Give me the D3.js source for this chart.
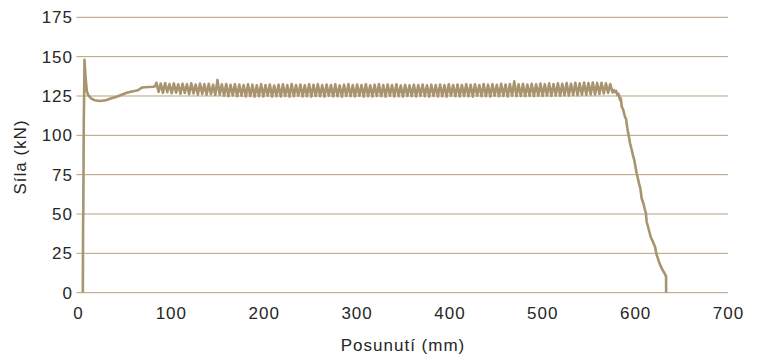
<!DOCTYPE html>
<html>
<head>
<meta charset="utf-8">
<script src="https://cdn.jsdelivr.net/npm/d3@7"></script>
<style>
  html, body { margin: 0; padding: 0; background: #ffffff; }
  svg { display: block; }
  text { font-family: "Liberation Sans", Arial, sans-serif; fill: #262626; }
</style>
</head>
<body>
<svg id="chart" width="759" height="356"></svg>
<script>
// Axis ticks
const xTicks = [0, 100, 200, 300, 400, 500, 600, 700];
const yTicks = [0, 25, 50, 75, 100, 125, 150, 175];

// Loading ramp, initial peak and settling (mm, kN)
const rampX = [5.2, 5.5, 5.7, 6.2, 6.6, 7.0, 8.0, 9.5, 11.1, 14, 18, 23.7, 30, 36, 41.8, 47, 52.5, 58, 62, 65, 67, 68.5, 72, 76, 81, 83];
const rampY = [0, 45, 50.5, 108, 125, 148, 138, 128, 125.5, 123.5, 122.3, 121.8, 122.3, 123.5, 124.5, 125.8, 127, 127.8, 128.3, 128.8, 129.6, 130.3, 130.5, 130.7, 130.9, 131.2];

// Steady oscillating plateau (mm)
const plateauX = [
  84.4, 86.8, 89.1, 91.5, 93.8, 96.2, 98.5, 100.9, 103.2, 105.6,
  107.9, 110.3, 112.6, 115.0, 117.3, 119.7, 122.0, 124.4, 126.7, 129.1,
  131.4, 133.8, 136.1, 138.5, 140.8, 143.2, 145.5, 147.9, 150.2, 152.6,
  154.9, 157.3, 159.6, 162.0, 164.3, 166.7, 169.0, 171.4, 173.7, 176.1,
  178.4, 180.8, 183.1, 185.5, 187.8, 190.2, 192.5, 194.9, 197.2, 199.6,
  201.9, 204.3, 206.6, 209.0, 211.3, 213.7, 216.0, 218.4, 220.7, 223.1,
  225.4, 227.8, 230.1, 232.5, 234.8, 237.2, 239.5, 241.9, 244.2, 246.6,
  248.9, 251.3, 253.6, 256.0, 258.3, 260.7, 263.0, 265.4, 267.7, 270.1,
  272.4, 274.8, 277.1, 279.5, 281.8, 284.2, 286.5, 288.9, 291.2, 293.6,
  295.9, 298.3, 300.6, 303.0, 305.3, 307.7, 310.0, 312.4, 314.7, 317.1,
  319.4, 321.8, 324.1, 326.5, 328.8, 331.2, 333.5, 335.9, 338.2, 340.6,
  342.9, 345.3, 347.6, 350.0, 352.3, 354.7, 357.0, 359.4, 361.7, 364.1,
  366.4, 368.8, 371.1, 373.5, 375.8, 378.2, 380.5, 382.9, 385.2, 387.6,
  389.9, 392.3, 394.6, 397.0, 399.3, 401.7, 404.0, 406.4, 408.7, 411.1,
  413.4, 415.8, 418.1, 420.5, 422.8, 425.2, 427.5, 429.9, 432.2, 434.6,
  436.9, 439.3, 441.6, 444.0, 446.3, 448.7, 451.0, 453.4, 455.7, 458.1,
  460.4, 462.8, 465.1, 467.5, 469.8, 472.2, 474.5, 476.9, 479.2, 481.6,
  483.9, 486.3, 488.6, 491.0, 493.3, 495.7, 498.0, 500.4, 502.7, 505.1,
  507.4, 509.8, 512.1, 514.5, 516.8, 519.2, 521.5, 523.9, 526.2, 528.6,
  530.9, 533.3, 535.6, 538.0, 540.3, 542.7, 545.0, 547.4, 549.7, 552.1,
  554.4, 556.8, 559.1, 561.5, 563.8, 566.2, 568.5, 570.9, 573.2, 575.6
];
// Plateau force (kN)
const plateauY = [
  133.4, 127.6, 132.9, 127.0, 133.2, 127.4, 132.6, 126.7, 133.0, 127.1,
  132.4, 126.5, 132.8, 126.9, 132.5, 126.2, 133.1, 126.6, 132.3, 125.9,
  132.9, 126.3, 132.5, 125.8, 132.7, 126.1, 132.2, 125.6, 135.2, 125.8,
  132.4, 125.2, 132.6, 124.9, 132.1, 125.3, 132.5, 124.8, 132.3, 125.1,
  131.9, 124.7, 132.4, 125.0, 132.2, 124.6, 131.8, 124.9, 132.5, 124.7,
  132.0, 125.1, 132.3, 124.6, 131.7, 124.9, 132.2, 124.7, 132.4, 125.0,
  131.9, 124.6, 132.6, 124.8, 132.0, 125.2, 132.3, 124.7, 131.8, 124.9,
  132.4, 124.6, 132.1, 125.0, 132.5, 124.8, 131.9, 124.6, 132.3, 125.1,
  132.0, 124.7, 132.4, 124.9, 131.8, 124.6, 132.2, 125.0, 132.5, 124.8,
  131.9, 124.7, 132.3, 125.1, 132.0, 124.6, 132.4, 124.9, 131.8, 124.7,
  132.2, 125.0, 132.5, 124.8, 131.9, 124.6, 132.3, 125.1, 132.0, 124.7,
  132.4, 124.9, 131.7, 124.6, 132.1, 125.0, 131.8, 124.8, 132.2, 124.7,
  131.9, 125.1, 132.3, 124.8, 131.8, 124.6, 132.2, 125.0, 131.9, 124.7,
  132.3, 124.9, 132.0, 124.6, 132.4, 125.1, 131.9, 124.8, 132.3, 124.7,
  132.0, 125.0, 132.5, 124.8, 132.1, 124.6, 132.4, 125.1, 132.0, 124.8,
  132.6, 124.9, 132.2, 124.7, 132.5, 125.2, 132.1, 124.8, 132.7, 125.0,
  132.3, 124.7, 132.6, 125.1, 134.3, 124.9, 132.4, 125.0, 132.7, 124.8,
  132.3, 125.1, 132.8, 124.9, 132.4, 125.2, 132.9, 125.0, 132.5, 125.3,
  133.0, 125.1, 132.6, 125.4, 133.1, 125.2, 132.7, 125.5, 133.2, 125.3,
  132.8, 125.6, 133.4, 125.5, 133.0, 125.8, 133.5, 125.7, 133.2, 126.0,
  133.6, 125.9, 133.3, 126.3, 133.4, 126.6, 133.0, 126.9, 132.6, 127.2
];

// Failure and unloading (mm, kN)
const dropX = [577.0, 578.3, 579.5, 581.0, 582.2, 583.7, 584.6, 585.5, 587.0, 589.0, 590.2, 591.6, 593.0, 594.5, 596.0, 598.0, 599.0, 601.6, 603.0, 604.5, 605.5, 607.0, 609.0, 610.6, 611.5, 612.4, 614.5, 616.7, 619.0, 621.4, 623.0, 625.0, 627.0, 629.5, 631.5, 632.8, 633.3, 633.4];
const dropY = [128.8, 127.5, 128.2, 125.5, 126.4, 122.5, 123.5, 118.2, 116.5, 111.8, 110.5, 104.5, 100.0, 95.0, 91.5, 86.4, 84.5, 75.9, 72.5, 68.4, 66.8, 60.0, 56.5, 52.5, 51.0, 45.1, 40.5, 35.6, 32.5, 29.2, 24.5, 20.8, 17.5, 14.5, 12.5, 11.0, 10.5, 0];

const displacement = rampX.concat(plateauX, dropX);
const force = rampY.concat(plateauY, dropY);
const points = displacement.map((d, i) => [d, force[i]]);

const svg = d3.select("#chart");
const x = d3.scaleLinear().domain([0, 700]).range([78, 728]);
const y = d3.scaleLinear().domain([0, 175]).range([292.7, 17.3]);

const gridColor = "#b3a07a";
const lineColor = "#a8956f";
const fontFamily = "'Liberation Sans', Arial, sans-serif";

// Horizontal gridlines
svg.append("g")
  .selectAll("line")
  .data(yTicks)
  .join("line")
  .attr("x1", x(0) - 1.5)
  .attr("x2", x(700))
  .attr("y1", d => y(d))
  .attr("y2", d => y(d))
  .attr("stroke", gridColor)
  .attr("stroke-width", 1);

// Y axis labels
const yAxis = d3.axisLeft(y).tickValues(yTicks).tickSize(0).tickPadding(0);
svg.append("g")
  .attr("transform", `translate(${x(0) - 5},0)`)
  .call(yAxis)
  .call(g => g.select(".domain").remove())
  .call(g => g.selectAll("text")
    .attr("fill", "#262626")
    .style("font-size", "17px")
    .style("letter-spacing", "1px")
    .style("font-family", fontFamily));

// X axis labels
const xAxis = d3.axisBottom(x).tickValues(xTicks).tickSize(0).tickPadding(0);
svg.append("g")
  .attr("transform", `translate(0,${y(0) + 14})`)
  .call(xAxis)
  .call(g => g.select(".domain").remove())
  .call(g => g.selectAll("text")
    .attr("fill", "#262626")
    .style("font-size", "17px")
    .style("letter-spacing", "1px")
    .style("font-family", fontFamily));

// Axis titles
svg.append("text")
  .attr("x", (x(0) + x(700)) / 2)
  .attr("y", 351)
  .attr("text-anchor", "middle")
  .style("font-size", "17px")
  .style("letter-spacing", "1px")
  .text("Posunutí (mm)");

svg.append("text")
  .attr("transform", `translate(26,${(y(0) + y(175)) / 2 + 2}) rotate(-90)`)
  .attr("text-anchor", "middle")
  .style("font-size", "17px")
  .style("letter-spacing", "1px")
  .text("Síla (kN)");

// Force–displacement curve
const line = d3.line().x(d => x(d[0])).y(d => y(d[1]));
svg.append("path")
  .datum(points)
  .attr("fill", "none")
  .attr("stroke", lineColor)
  .attr("stroke-width", 2.6)
  .attr("stroke-linejoin", "round")
  .attr("d", line);
</script>
</body>
</html>
